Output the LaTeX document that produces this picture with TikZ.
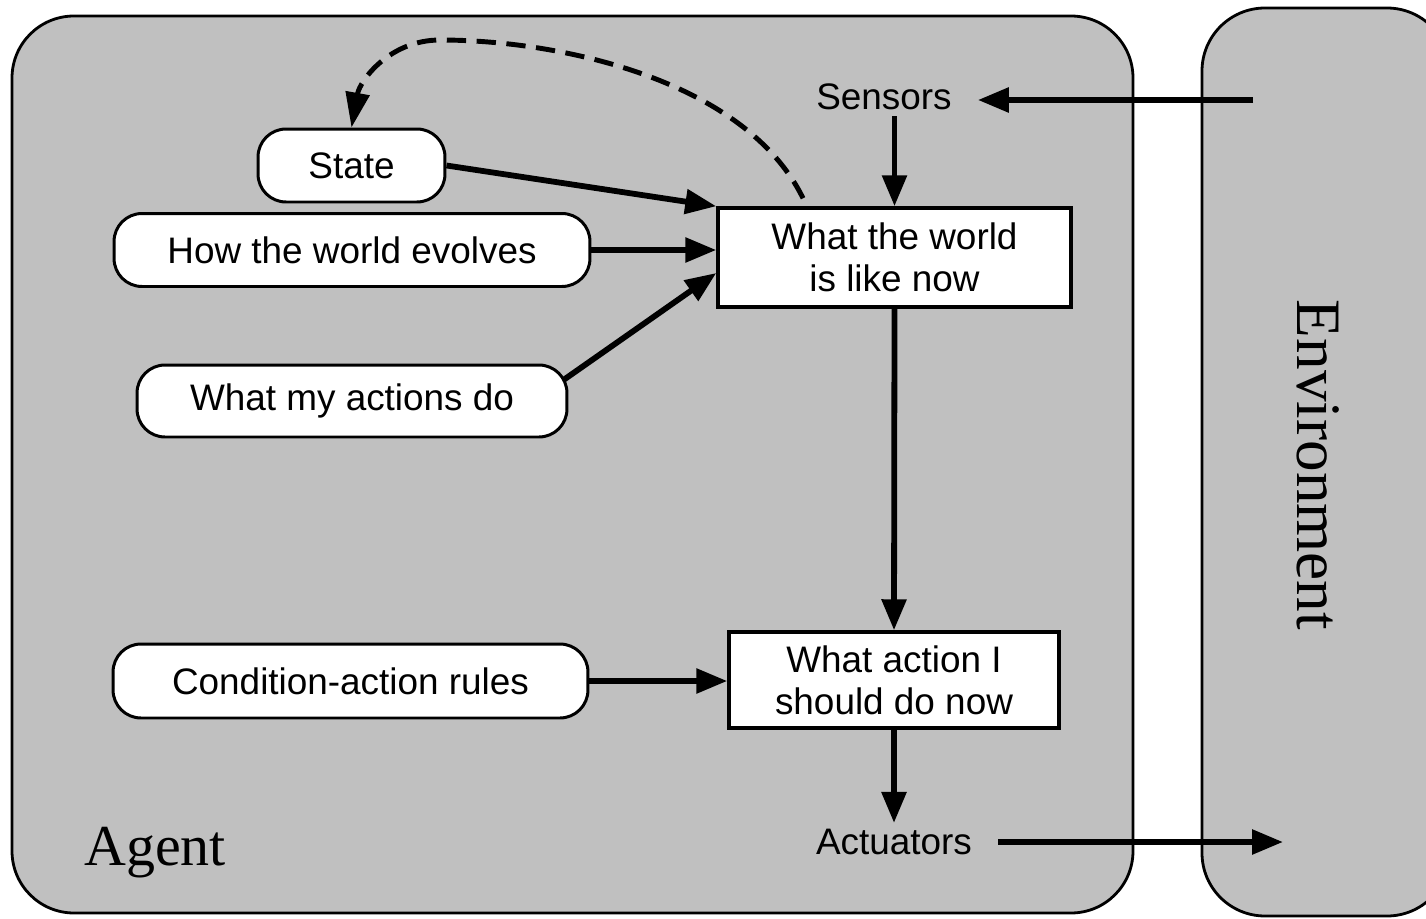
\documentclass[tikz,border=0pt]{standalone}
\usepackage{fontspec}
\setmainfont{Liberation Sans}
\newfontfamily\serifface{Liberation Serif}
\usetikzlibrary{arrows.meta,calc}

\definecolor{panelgray}{RGB}{192,192,192}

\begin{document}
\begin{tikzpicture}[x=0.02cm,y=-0.02cm,
  every node/.style={font=\fontsize{21}{24}\selectfont},
  pill/.style={draw, line width=1.7pt, fill=white, rounded corners=0.56cm,
               inner sep=0pt, align=center},
  panel/.style={draw, line width=2pt, fill=white, inner sep=0pt, align=center},
  flow/.style={line width=3.3pt, -{Triangle[length=0.62cm,width=0.48cm]}},
  feedback/.style={line width=2.8pt, dash pattern=on 11pt off 6pt,
                   -{Triangle[length=0.7cm,width=0.47cm]}},
  ]
\useasboundingbox[fill=white] (0,0) rectangle (1426,919);

% agent and environment panels
\begin{scope}
  \clip (0,0) rectangle (1426,919);
  \draw[fill=panelgray, line width=1.6pt, rounded corners=1.24cm]
    (12,16) rectangle (1133,913);
  \draw[fill=panelgray, line width=1.6pt, rounded corners=1.26cm]
    (1202,8) rectangle (1450,916);
\end{scope}

% knowledge held by the agent
\node[pill, minimum width=3.74cm, minimum height=1.46cm] (state) at (351.5,165.5) {State};
\node[pill, minimum width=9.52cm, minimum height=1.46cm] (evolves) at (352,250) {How the world evolves};
\node[pill, minimum width=8.6cm, minimum height=1.44cm] (actions) at (352,401) {What my actions do};
\node[pill, minimum width=9.5cm, minimum height=1.48cm] (rules) at (350.5,681) {Condition-action rules};

% processing steps
\node[panel, minimum width=7.06cm, minimum height=1.98cm] (wn) at (894.5,257.5) {What the world\\is like now};
\node[panel, minimum width=6.6cm, minimum height=1.92cm] (act) at (894,680) {What action I\\should do now};

% interface labels
\node (sensors) at (884,97) {Sensors};
\node (actuators) at (894,842) {Actuators};
\node[font=\serifface\fontsize{33}{36}\selectfont, anchor=base west, inner sep=0pt]
  (agent) at (84,865) {Agent};
\node[font=\serifface\fontsize{36}{40}\selectfont, rotate=-90, inner sep=0pt]
  (envlabel) at (1318,465) {Environment};

\coordinate (envin) at (1253,100);
\coordinate (envout) at (1283,843);

% connectors
\draw[flow, shorten >=0.4cm] (envin) -- (sensors.east |- envin);
\draw[flow] (wn.north |- sensors.south) -- (wn.north);
\draw[flow] (state.east) -- (wn.north west);
\draw[flow] (evolves.east) -- (evolves.east -| wn.west);
\draw[flow] ([xshift=-0.1cm,yshift=0.42cm]actions.east) -- ([yshift=-0.31cm]wn.west);
\draw[flow] (wn.south) -- (act.north);
\draw[flow] (rules.east) -- (rules.east -| act.west);
\draw[flow] (act.south) -- (act.south |- actuators.north);
\draw[flow, shorten <=0.4cm] (actuators.east) -- (actuators.east -| envout);

% state update feedback
\draw[feedback] ([xshift=-1.83cm,yshift=0.16cm]wn.north)
  .. controls (745,80) and (560,40) .. (440,40)
  .. controls (390,40) and (360,80) .. (state.north);
\end{tikzpicture}
\end{document}
